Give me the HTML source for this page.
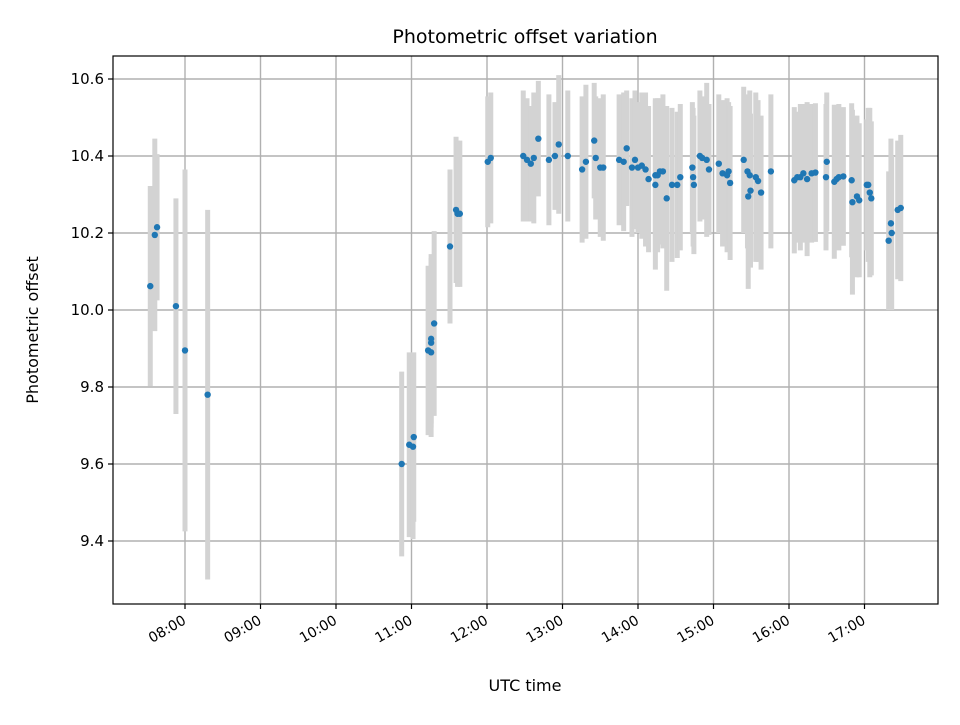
<!DOCTYPE html>
<html><head><meta charset="utf-8"><style>
body{margin:0;background:#fff;font-family:"Liberation Sans","DejaVu Sans",sans-serif}
svg text{font-family:"DejaVu Sans","Liberation Sans",sans-serif}
</style></head><body>
<svg id="chart" width="960" height="720" xmlns="http://www.w3.org/2000/svg">
<rect width="960" height="720" fill="#fff"/>
<text x="525" y="43" text-anchor="middle" font-size="19">Photometric offset variation</text>
<text x="525" y="691" text-anchor="middle" font-size="16">UTC time</text>
<text transform="translate(38,330) rotate(-90)" text-anchor="middle" font-size="16">Photometric offset</text>
<g id="grid"></g><g id="bars"></g><g id="pts"></g><g id="axes"></g>
</svg>
<script>
const times=[7.54,7.6,7.63,7.88,8.0,8.3,10.87,10.97,11.02,11.03,11.22,11.26,11.26,11.26,11.30,11.51,11.59,11.61,11.64,12.01,12.05,12.48,12.53,12.58,12.62,12.68,12.82,12.90,12.95,13.07,13.26,13.31,13.42,13.44,13.50,13.54,13.75,13.81,13.85,13.92,13.96,14.0,14.05,14.10,14.14,14.23,14.23,14.26,14.29,14.33,14.38,14.45,14.52,14.56,14.72,14.73,14.74,14.82,14.85,14.91,14.94,15.07,15.12,15.18,15.20,15.22,15.40,15.45,15.46,15.48,15.49,15.56,15.59,15.63,15.76,16.07,16.11,16.15,16.19,16.24,16.30,16.35,16.49,16.50,16.60,16.63,16.66,16.72,16.83,16.84,16.90,16.93,17.03,17.05,17.07,17.09,17.32,17.35,17.36,17.44,17.48];
const values=[10.062,10.195,10.215,10.01,9.895,9.78,9.60,9.65,9.645,9.67,9.895,9.89,9.925,9.915,9.965,10.165,10.26,10.25,10.25,10.385,10.395,10.40,10.39,10.38,10.395,10.445,10.39,10.40,10.43,10.40,10.365,10.385,10.44,10.395,10.37,10.37,10.39,10.385,10.42,10.37,10.39,10.37,10.375,10.365,10.34,10.35,10.325,10.35,10.36,10.36,10.29,10.325,10.325,10.345,10.37,10.345,10.325,10.40,10.395,10.39,10.365,10.38,10.355,10.35,10.36,10.33,10.39,10.36,10.295,10.35,10.31,10.345,10.335,10.305,10.36,10.337,10.345,10.345,10.355,10.34,10.355,10.357,10.345,10.385,10.333,10.34,10.345,10.347,10.337,10.28,10.295,10.285,10.325,10.325,10.305,10.29,10.18,10.225,10.20,10.26,10.265];
const errors=[0.26,0.25,0.19,0.28,0.47,0.48,0.24,0.24,0.24,0.22,0.22,0.22,0.22,0.22,0.24,0.2,0.19,0.19,0.19,0.17,0.17,0.17,0.16,0.15,0.17,0.15,0.17,0.14,0.18,0.17,0.19,0.2,0.15,0.16,0.18,0.19,0.17,0.18,0.15,0.18,0.18,0.17,0.19,0.2,0.19,0.2,0.22,0.2,0.19,0.2,0.24,0.2,0.19,0.19,0.17,0.18,0.18,0.17,0.16,0.2,0.17,0.18,0.19,0.2,0.18,0.2,0.19,0.2,0.24,0.22,0.2,0.22,0.21,0.2,0.2,0.19,0.17,0.19,0.18,0.2,0.18,0.18,0.19,0.18,0.2,0.18,0.19,0.18,0.2,0.24,0.21,0.2,0.17,0.2,0.22,0.2,0.18,0.22,0.2,0.18,0.19];
const yTicks=[9.4,9.6,9.8,10.0,10.2,10.4,10.6];
const xTicks=[8,9,10,11,12,13,14,15,16,17];
const xTickLabels=["08:00","09:00","10:00","11:00","12:00","13:00","14:00","15:00","16:00","17:00"];
const L=113,R=938,T=56,B=604;
const xs=h=>185+(h-8)*75.5;
const ys=v=>79+(10.6-v)*385;
const NS="http://www.w3.org/2000/svg";
function mk(tag,attrs,parent,text){const e=document.createElementNS(NS,tag);for(const k in attrs)e.setAttribute(k,attrs[k]);if(text!==undefined)e.textContent=text;document.getElementById(parent).appendChild(e);return e;}
yTicks.forEach((t,i)=>{
 const g=mk('line',{x1:L,x2:R,y1:ys(t),y2:ys(t),stroke:'#b0b0b0','stroke-width':1.4},'grid');
 
 
 const tk=mk('line',{x1:L-5,x2:L,y1:ys(t),y2:ys(t),stroke:'#000','stroke-width':1.2},'axes');
 
 
 const lb=mk('text',{x:L-9,y:ys(t)+5,'text-anchor':'end','font-size':15},'axes',t.toFixed(1));
 
 
});
xTicks.forEach((t,i)=>{
 const x=xs(t);
 const g=mk('line',{x1:x,x2:x,y1:T,y2:B,stroke:'#b0b0b0','stroke-width':1.4},'grid');
 
 
 const tk=mk('line',{x1:x,x2:x,y1:B,y2:B+5,stroke:'#000','stroke-width':1.2},'axes');
 
 
 const lb=mk('text',{transform:`translate(${x+2},${B+19}) rotate(-30)`,'text-anchor':'end','font-size':14},'axes',xTickLabels[i]);
 
 
});
times.forEach((t,i)=>{
 const b=mk('line',{x1:xs(t),x2:xs(t),y1:ys(values[i]+errors[i]),y2:ys(values[i]-errors[i]),stroke:'#d3d3d3','stroke-width':5},'bars');
 
 
});
times.forEach((t,i)=>{
 const p=mk('circle',{cx:xs(t),cy:ys(values[i]),r:3.2,fill:'#1f77b4'},'pts');
 
 
});
const fr=mk('rect',{x:L,y:T,width:R-L,height:B-T,fill:'none',stroke:'#000','stroke-width':1.2},'axes');


</script>
</body></html>
